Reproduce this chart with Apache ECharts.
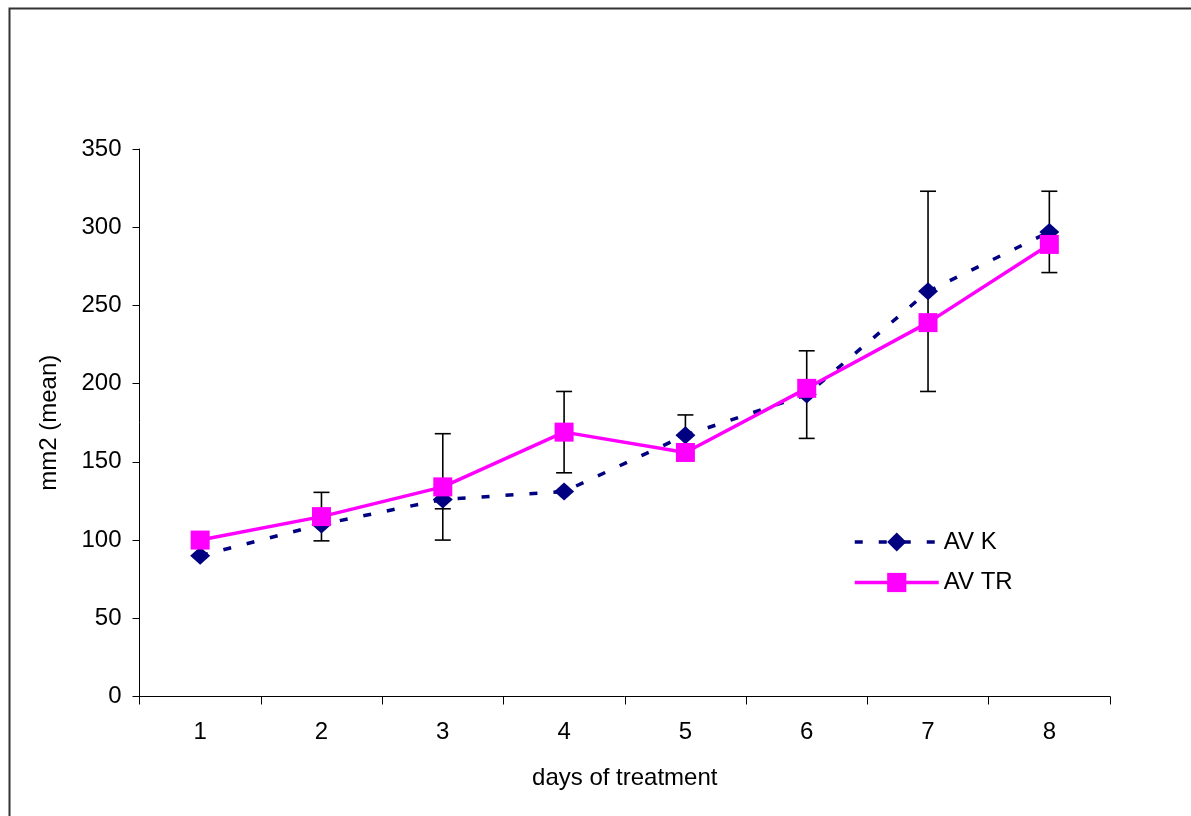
<!DOCTYPE html>
<html>
<head>
<meta charset="utf-8">
<script src="https://cdn.jsdelivr.net/npm/echarts@6/dist/echarts.min.js"></script>
<style>
  html, body { margin: 0; padding: 0; background: #fff; }
  #chart { width: 1191px; height: 816px; }
</style>
</head>
<body>
<div id="chart"></div>
<script>
// Days on the x axis
const days = ['1', '2', '3', '4', '5', '6', '7', '8'];

// Mean area (mm2) per day for each group
const avK  = [90, 110, 126, 131, 167, 193, 259, 297];
const avTR = [100, 115, 134, 169, 156, 197, 239, 289];

// Half-length of the error bars (null = no bar drawn)
const errK  = [null, null, 6, null, 13, 28, 64, 26];
const errTR = [null, 15.5, 34, 26, null, null, null, null];

// Y axis range
const yMin = 0, yMax = 350, yStep = 50;

const FONT = "'Liberation Sans', Arial, sans-serif";
const K_LINE  = { color: '#000080', width: 3.5, type: [8, 16] };
const TR_LINE = { color: '#ff00ff', width: 3.5, type: 'solid' };

function barData(values, errs) {
  const out = [];
  values.forEach((v, i) => {
    if (errs[i] != null) out.push([i, v - errs[i], v + errs[i]]);
  });
  return out;
}

function renderErrorBar(params, api) {
  const i = api.value(0);
  const top = api.coord([i, api.value(2)]);
  const bot = api.coord([i, api.value(1)]);
  const cap = 8;
  const style = { stroke: '#000', lineWidth: 1.6 };
  return {
    type: 'group',
    children: [
      { type: 'line', shape: { x1: top[0], y1: top[1], x2: bot[0], y2: bot[1] }, style },
      { type: 'line', shape: { x1: top[0] - cap, y1: top[1], x2: top[0] + cap, y2: top[1] }, style },
      { type: 'line', shape: { x1: bot[0] - cap, y1: bot[1], x2: bot[0] + cap, y2: bot[1] }, style }
    ]
  };
}

const chart = echarts.init(document.getElementById('chart'), null, { renderer: 'canvas' });

chart.setOption({
  animation: false,
  backgroundColor: '#fff',
  textStyle: { fontFamily: FONT, color: '#000' },
  graphic: [{
    type: 'rect',
    left: 7, top: 6,
    shape: { x: 0, y: 0, width: 1220, height: 840 },
    style: { fill: 'none', stroke: '#333', lineWidth: 2 },
    silent: true, z: -1
  }],
  grid: { left: 139.5, right: 81, top: 149, bottom: 119.5, containLabel: false },
  legend: {
    orient: 'vertical',
    left: 853, top: 530,
    padding: 0,
    itemWidth: 84, itemHeight: 24, itemGap: 16.5,
    textStyle: { fontFamily: FONT, fontSize: 24, color: '#000' },
    data: [
      { name: 'AV K', lineStyle: K_LINE },
      { name: 'AV TR', lineStyle: TR_LINE }
    ]
  },
  xAxis: {
    type: 'category',
    data: days,
    boundaryGap: true,
    name: 'days of treatment',
    nameLocation: 'middle',
    nameGap: 70,
    nameTextStyle: { fontFamily: FONT, fontSize: 24, color: '#000' },
    axisLine: { lineStyle: { color: '#000', width: 1 } },
    axisTick: { show: true, length: 8, inside: false, lineStyle: { color: '#000' } },
    axisLabel: { fontFamily: FONT, fontSize: 24, color: '#000', margin: 24 },
    splitLine: { show: false }
  },
  yAxis: {
    type: 'value',
    min: yMin, max: yMax, interval: yStep,
    name: 'mm2 (mean)',
    nameLocation: 'middle',
    nameGap: 78,
    nameRotate: 90,
    nameTextStyle: { fontFamily: FONT, fontSize: 24, color: '#000' },
    axisLine: { show: true, lineStyle: { color: '#000', width: 1 } },
    axisTick: { show: true, length: 7, lineStyle: { color: '#000' } },
    axisLabel: { fontFamily: FONT, fontSize: 24, color: '#000', margin: 18 },
    splitLine: { show: false }
  },
  series: [
    {
      type: 'custom',
      name: 'errK',
      renderItem: renderErrorBar,
      data: barData(avK, errK),
      encode: { x: 0, y: [1, 2] },
      z: 1, silent: true
    },
    {
      type: 'custom',
      name: 'errTR',
      renderItem: renderErrorBar,
      data: barData(avTR, errTR),
      encode: { x: 0, y: [1, 2] },
      z: 1, silent: true
    },
    {
      type: 'line',
      name: 'AV K',
      data: avK,
      symbol: 'diamond',
      symbolSize: [20, 18],
      showAllSymbol: true,
      lineStyle: K_LINE,
      itemStyle: { color: '#000080', borderWidth: 0 },
      z: 2
    },
    {
      type: 'line',
      name: 'AV TR',
      data: avTR,
      symbol: 'rect',
      symbolSize: 19,
      showAllSymbol: true,
      lineStyle: TR_LINE,
      itemStyle: { color: '#ff00ff', borderWidth: 0 },
      z: 3
    }
  ]
});
</script>
</body>
</html>
